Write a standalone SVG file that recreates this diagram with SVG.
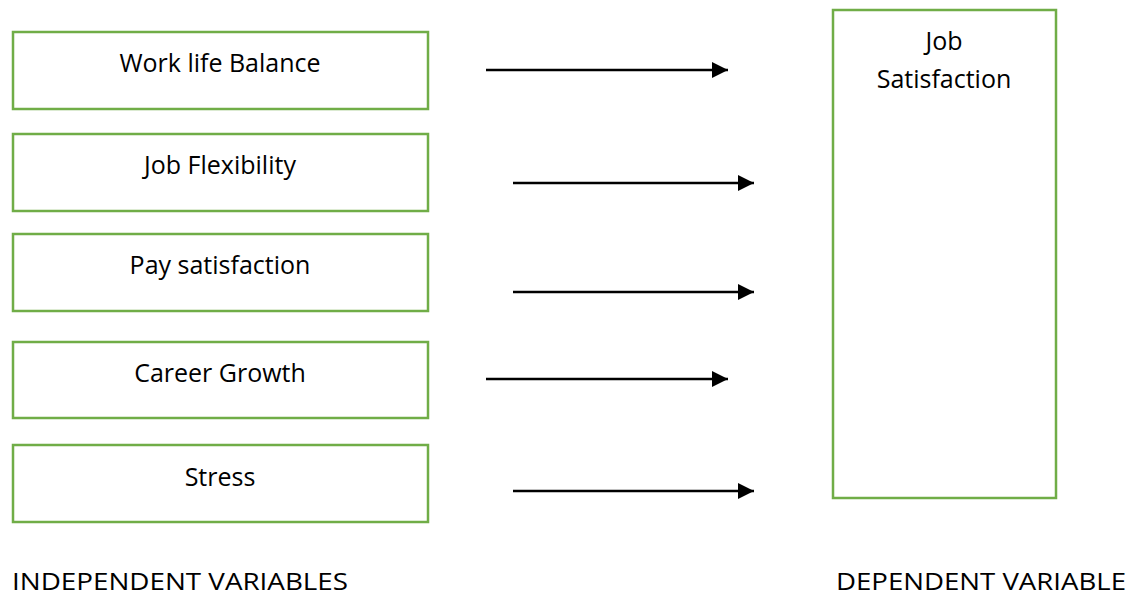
<svg xmlns="http://www.w3.org/2000/svg" width="1131" height="596" viewBox="0 0 1131 596">
  <style>
    .box { fill: #ffffff; stroke: #70ad47; stroke-width: 2.5; }
    .lbl { font-family: "Open Sans", "Liberation Sans", sans-serif; font-size: 25px; fill: #000000; text-anchor: middle; }
    .cap { font-family: "Open Sans", "Liberation Sans", sans-serif; font-size: 24px; fill: #000000; }
    .arr { stroke: #000000; stroke-width: 2.5; fill: none; marker-end: url(#head); }
  </style>
  <defs>
    <marker id="head" markerWidth="16" markerHeight="16" refX="16" refY="8" orient="auto" markerUnits="userSpaceOnUse" viewBox="0 0 16 16">
      <path d="M0,0 L16,8 L0,16 Z" fill="#000000"/>
    </marker>
  </defs>
  <rect width="1131" height="596" fill="#ffffff"/>

  <g id="work-life-balance">
    <rect class="box" x="13" y="32" width="415" height="77"/>
    <text class="lbl" x="220" y="72">Work life Balance</text>
  </g>
  <g id="job-flexibility">
    <rect class="box" x="13" y="134" width="415" height="77"/>
    <text class="lbl" x="220" y="174">Job Flexibility</text>
  </g>
  <g id="pay-satisfaction">
    <rect class="box" x="13" y="234" width="415" height="77"/>
    <text class="lbl" x="220" y="274">Pay satisfaction</text>
  </g>
  <g id="career-growth">
    <rect class="box" x="13" y="342" width="415" height="76"/>
    <text class="lbl" x="220" y="382">Career Growth</text>
  </g>
  <g id="stress">
    <rect class="box" x="13" y="445" width="415" height="77"/>
    <text class="lbl" x="220" y="486">Stress</text>
  </g>

  <g id="job-satisfaction">
    <rect class="box" x="833" y="10" width="223" height="488"/>
    <text class="lbl" x="944" y="50">Job</text>
    <text class="lbl" x="944" y="88">Satisfaction</text>
  </g>

  <g id="connectors">
    <line class="arr" x1="486" y1="70" x2="728" y2="70"/>
    <line class="arr" x1="513" y1="183" x2="754" y2="183"/>
    <line class="arr" x1="513" y1="292" x2="754" y2="292"/>
    <line class="arr" x1="486" y1="379" x2="728" y2="379"/>
    <line class="arr" x1="513" y1="491" x2="754" y2="491"/>
  </g>

  <g id="captions">
    <text class="cap" x="12" y="590" textLength="336" lengthAdjust="spacingAndGlyphs">INDEPENDENT VARIABLES</text>
    <text class="cap" x="836" y="590" textLength="290" lengthAdjust="spacingAndGlyphs">DEPENDENT VARIABLE</text>
  </g>
</svg>
